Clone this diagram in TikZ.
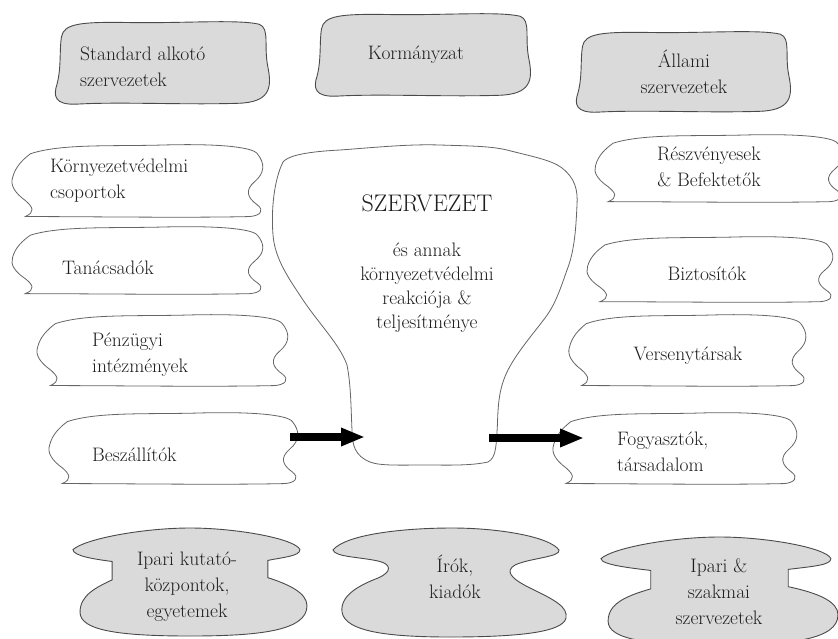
\documentclass[tikz,border=0pt]{standalone}
\usepackage{tikz}
\usetikzlibrary{arrows.meta}
\definecolor{boxgray}{HTML}{DADADA}
\definecolor{edgegray}{HTML}{4A4A4A}
\definecolor{txt}{HTML}{1E1E1E}
\tikzset{
   grayshape/.style={draw=edgegray, fill=boxgray, line width=0.9pt},
   cloudshape/.style={draw=edgegray!85, fill=white, line width=0.8pt},
   lbl/.style={text=txt, font=\fontsize{19.5}{26}\selectfont, inner sep=0pt},
   bigarrow/.style={line width=8pt, -{Triangle[length=24pt,width=17pt]}},
}
% shapes: x, y (top left), width, height
\newcommand{\graybox}[4]{
   \begin{scope}[shift={(#1,#2)}, x=#3pt, y=-#4pt]
   \draw[grayshape] (0.03,0.2) .. controls (0.04,0.04) and (0.12,0.02) .. (0.35,0.03)
      .. controls (0.6,0.04) and (0.85,-0.01) .. (0.95,0.05)
      .. controls (1.0,0.1) and (0.97,0.3) .. (0.99,0.55)
      .. controls (1.01,0.8) and (1.0,0.97) .. (0.85,0.98)
      .. controls (0.6,1.0) and (0.3,0.96) .. (0.1,0.99)
      .. controls (0.0,1.0) and (-0.01,0.9) .. (0.01,0.75)
      .. controls (0.03,0.55) and (0.02,0.35) .. (0.03,0.2) -- cycle;
   \end{scope}
}
\newcommand{\cloudbox}[4]{
   \begin{scope}[shift={(#1,#2)}, x=#3pt, y=-#4pt]
   \draw[cloudshape] (0.08,0.12) .. controls (0.2,-0.02) and (0.4,0.02) .. (0.6,0.0)
      .. controls (0.8,-0.02) and (0.95,0.02) .. (0.97,0.12)
      .. controls (1.0,0.25) and (1.0,0.38) .. (0.96,0.5)
      .. controls (0.92,0.62) and (0.93,0.72) .. (0.97,0.82)
      .. controls (1.0,0.9) and (0.98,0.97) .. (0.94,0.98)
      .. controls (0.7,1.0) and (0.3,0.98) .. (0.06,0.98)
      .. controls (0.1,0.92) and (0.09,0.85) .. (0.06,0.76)
      .. controls (0.02,0.66) and (0.0,0.55) .. (0.01,0.45)
      .. controls (0.02,0.3) and (0.05,0.2) .. (0.08,0.12) -- cycle;
   \end{scope}
}
% x, y, width, height, neck inset
\newcommand{\mushroom}[5]{
   \begin{scope}[shift={(#1,#2)}, x=#3pt, y=-#4pt]
   \draw[grayshape] (0,0.2) .. controls (0.05,0.1) and (0.3,0.0) .. (0.5,0.0)
      .. controls (0.7,0.0) and (0.95,0.1) .. (0.97,0.2)
      .. controls (0.97,0.26) and (0.9,0.27) .. ({1-#5},0.3)
      -- ({1-#5},0.46)
      .. controls (0.92,0.52) and (1.0,0.6) .. (1.0,0.72)
      .. controls (1.0,0.95) and (0.8,1.0) .. (0.5,1.0)
      .. controls (0.2,1.0) and (0.03,0.95) .. (0.03,0.78)
      .. controls (0.03,0.62) and (0.1,0.55) .. (#5,0.48)
      -- (#5,0.31)
      .. controls ({#5-0.07},0.29) and (0.0,0.26) .. (0,0.2) -- cycle;
   \end{scope}
}

\begin{document}
\begin{tikzpicture}[x=1pt, y=-1pt]
   \useasboundingbox (0,0) rectangle (838,638);

   % Top row
   \graybox{55}{20}{215}{85}
   \graybox{315}{12}{216}{85}
   \graybox{576}{30}{215}{83}
   \node[lbl, anchor=west, align=left] (standard) at (80,67) {Standard alkotó\\szervezetek};
   \node[lbl] (kormany) at (416,55) {Kormányzat};
   \node[lbl, align=center] (allami) at (684,72) {Állami\\szervezetek};

   % Organisation
   \draw[cloudshape] (283,162) .. controls (287,157) and (300,152) .. (340,150)
      .. controls (380,147) and (410,144) .. (440,145)
      .. controls (470,146) and (490,146) .. (507,150)
      .. controls (530,156) and (552,160) .. (562,168)
      .. controls (575,178) and (578,190) .. (577,205)
      .. controls (576,225) and (575,250) .. (567,270)
      .. controls (560,290) and (555,305) .. (545,318)
      .. controls (530,338) and (510,360) .. (503,382)
      .. controls (497,400) and (498,420) .. (497,432)
      .. controls (496,450) and (495,458) .. (488,462)
      .. controls (470,466) and (445,465) .. (427,465)
      .. controls (400,465) and (380,466) .. (370,462)
      .. controls (355,456) and (352,445) .. (352,430)
      .. controls (351,410) and (351,385) .. (347,365)
      .. controls (340,345) and (320,325) .. (303,300)
      .. controls (290,280) and (275,260) .. (273,235)
      .. controls (271,210) and (274,180) .. (283,162) -- cycle;
   \node[lbl, font=\fontsize{24}{30}\selectfont] (org) at (427,203) {SZERVEZET};
   \node[lbl, align=center, font=\fontsize{19.5}{24}\selectfont] (orgsub) at (427,288)
      {és annak\\környezetvédelmi\\reakciója \&\\teljesítménye};

   % Left column
   \cloudbox{10}{145}{255}{73}
   \cloudbox{10}{227}{255}{68}
   \cloudbox{35}{315}{255}{72}
   \cloudbox{47}{413}{253}{72}
   \node[lbl, anchor=west, align=left] (kornyezet) at (50,181) {Környezetvédelmi\\csoportok};
   \node[lbl, anchor=west] (tanacs) at (62,268) {Tanácsadók};
   \node[lbl, anchor=west, align=left] (penzugy) at (92,355) {Pénzügyi\\intézmények};
   \node[lbl, anchor=west] (besz) at (92,455) {Beszállítók};

   % Right column
   \cloudbox{593}{135}{252}{68}
   \cloudbox{585}{237}{250}{66}
   \cloudbox{567}{315}{241}{72}
   \cloudbox{551}{413}{248}{72}
   \node[lbl, align=center] (reszveny) at (709,167) {Részvényesek\\\& Befektetők};
   \node[lbl] (biztos) at (707,274) {Biztosítók};
   \node[lbl] (verseny) at (688,356) {Versenytársak};
   \node[lbl, anchor=west, align=left] (fogyaszt) at (617,452) {Fogyasztók,\\társadalom};

   % Arrows
   \coordinate (besz-out) at (290,437);
   \coordinate (org-in) at (365,437);
   \coordinate (org-out) at (489,438);
   \coordinate (fogy-in) at (584,438);
   \draw[bigarrow] (besz-out) -- (org-in);
   \draw[bigarrow] (org-out) -- (fogy-in);

   % Bottom row
   \mushroom{73}{528}{234}{108}{0.167}
   \draw[grayshape] (333,550) .. controls (345,535) and (400,528) .. (452,528)
      .. controls (500,528) and (550,537) .. (559,550)
      .. controls (561,557) and (530,558) .. (515,565)
      .. controls (505,571) and (510,578) .. (530,588)
      .. controls (555,600) and (568,607) .. (566,618)
      .. controls (563,632) and (520,637) .. (450,637)
      .. controls (390,637) and (345,632) .. (342,612)
      .. controls (340,595) and (360,585) .. (378,578)
      .. controls (392,572) and (392,564) .. (378,561)
      .. controls (360,557) and (335,557) .. (333,550) -- cycle;
   \mushroom{601}{537}{237}{108}{0.21}
   \node[lbl, align=center] (kutato) at (187,587) {Ipari kutató-\\központok,\\egyetemek};
   \node[lbl, align=center] (irok) at (455,577) {Írók,\\kiadók};
   \node[lbl, align=center] (szakmai) at (719,592) {Ipari \&\\szakmai\\szervezetek};
\end{tikzpicture}
\end{document}
